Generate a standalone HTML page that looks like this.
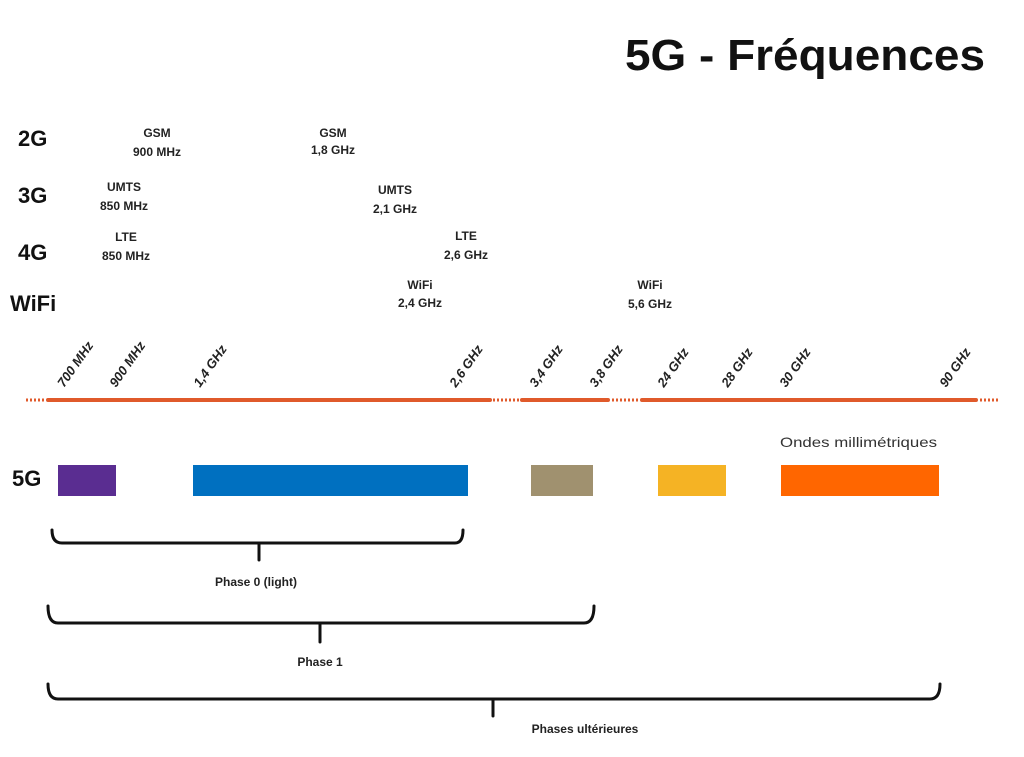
<!DOCTYPE html>
<html><head><meta charset="utf-8"><style>
body{margin:0;background:#fff;}
svg{display:block;font-family:"Liberation Sans",sans-serif;}
.s{font-size:12px;font-weight:bold;text-anchor:middle;fill:#222;}
.g{font-size:22px;font-weight:bold;fill:#111;}
.r{font-size:13px;font-weight:bold;font-style:italic;fill:#222;}
</style></head><body>
<svg width="1024" height="757" viewBox="0 0 1024 757">
<text x="625" y="70" textLength="360" lengthAdjust="spacingAndGlyphs" font-size="44" font-weight="bold" fill="#111">5G - Fréquences</text>
<text class="g" x="18" y="146">2G</text>
<text class="g" x="18" y="203">3G</text>
<text class="g" x="18" y="260">4G</text>
<text class="g" x="10" y="311">WiFi</text>
<text class="s" x="157" y="137">GSM</text><text class="s" x="157" y="156">900 MHz</text>
<text class="s" x="333" y="137">GSM</text><text class="s" x="333" y="154">1,8 GHz</text>
<text class="s" x="124" y="191">UMTS</text><text class="s" x="124" y="210">850 MHz</text>
<text class="s" x="395" y="194">UMTS</text><text class="s" x="395" y="213">2,1 GHz</text>
<text class="s" x="126" y="241">LTE</text><text class="s" x="126" y="260">850 MHz</text>
<text class="s" x="466" y="240">LTE</text><text class="s" x="466" y="259">2,6 GHz</text>
<text class="s" x="420" y="289">WiFi</text><text class="s" x="420" y="307">2,4 GHz</text>
<text class="s" x="650" y="289">WiFi</text><text class="s" x="650" y="308">5,6 GHz</text>
<g class="r">
<text transform="translate(64,388) rotate(-55)">700 MHz</text>
<text transform="translate(116,388) rotate(-55)">900 MHz</text>
<text transform="translate(200,388) rotate(-55)">1,4 GHz</text>
<text transform="translate(456,388) rotate(-55)">2,6 GHz</text>
<text transform="translate(536,388) rotate(-55)">3,4 GHz</text>
<text transform="translate(596,388) rotate(-55)">3,8 GHz</text>
<text transform="translate(664,388) rotate(-55)">24 GHz</text>
<text transform="translate(728,388) rotate(-55)">28 GHz</text>
<text transform="translate(786,388) rotate(-55)">30 GHz</text>
<text transform="translate(946,388) rotate(-55)">90 GHz</text>
</g>
<g stroke="#e05a2b" stroke-width="4" stroke-linecap="round">
<line x1="48" y1="400" x2="490" y2="400"/>
<line x1="522" y1="400" x2="608" y2="400"/>
<line x1="642" y1="400" x2="976" y2="400"/>
</g>
<g stroke="#e05a2b" stroke-width="3" stroke-dasharray="2,2">
<line x1="26" y1="400" x2="46" y2="400"/>
<line x1="493" y1="400" x2="519" y2="400"/>
<line x1="612" y1="400" x2="639" y2="400"/>
<line x1="980" y1="400" x2="1000" y2="400"/>
</g>
<text x="12" y="486" font-size="22" font-weight="bold" fill="#111">5G</text>
<text x="780" y="447" font-size="14" textLength="157" lengthAdjust="spacingAndGlyphs" fill="#333">Ondes millimétriques</text>
<rect x="58" y="465" width="58" height="31" fill="#5a2d91"/>
<rect x="193" y="465" width="275" height="31" fill="#0070c0"/>
<rect x="531" y="465" width="62" height="31" fill="#a0916f"/>
<rect x="658" y="465" width="68" height="31" fill="#f5b324"/>
<rect x="781" y="465" width="158" height="31" fill="#ff6600"/>
<g fill="none" stroke="#111" stroke-width="3" stroke-linecap="round">
<path d="M52 530 Q52 543 62 543 L455 543 Q463 543 463 530"/>
<line x1="259" y1="543" x2="259" y2="560"/>
<path d="M48 606 Q48 623 58 623 L584 623 Q594 623 594 606"/>
<line x1="320" y1="623" x2="320" y2="642"/>
<path d="M48 684 Q48 699 58 699 L930 699 Q940 699 940 684"/>
<line x1="493" y1="699" x2="493" y2="716"/>
</g>
<text class="s" x="256" y="586" font-size="13">Phase 0 (light)</text>
<text class="s" x="320" y="666">Phase 1</text>
<text class="s" x="585" y="733">Phases ultérieures</text>
</svg>
</body></html>
